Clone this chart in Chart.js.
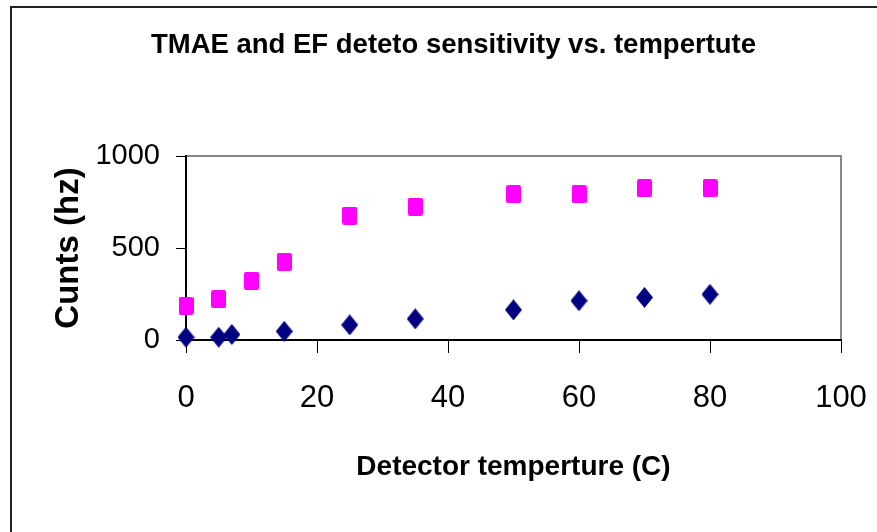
<!DOCTYPE html>
<html>
<head>
<meta charset="utf-8">
<script src="https://cdn.jsdelivr.net/npm/chart.js@4"></script>
<style>
  html, body { margin: 0; padding: 0; background: #fff; overflow: hidden; }
  #wrap { position: relative; width: 877px; height: 532px; }
  #frame {
    position: absolute; left: 10px; top: 6px; width: 900px; height: 560px;
    border: 2px solid #222; pointer-events: none;
  }
</style>
</head>
<body>
<div id="wrap">
  <canvas id="myChart" width="877" height="532"></canvas>
  <div id="frame"></div>
</div>
<script>
// detector temperature (C)
const tmaeTemps = [0, 5, 7, 15, 25, 35, 50, 60, 70, 80];
const tmaeCounts = [15, 15, 30, 47, 82, 115, 164, 213, 231, 248];
const efTemps = [0, 5, 10, 15, 25, 35, 50, 60, 70, 80];
const efCounts = [187, 222, 322, 424, 676, 725, 792, 792, 825, 825];

const xTicks = [0, 20, 40, 60, 80, 100];
const yTicks = [0, 500, 1000];

const toPoints = (xs, ys) => xs.map((x, i) => ({ x, y: ys[i] }));

// marker images (excel style rect / diamond)
const makeMarker = (w, h, color, diamond) => {
  const c = document.createElement('canvas');
  c.width = w;
  c.height = h;
  const g = c.getContext('2d');
  g.fillStyle = color;
  g.beginPath();
  if (diamond) {
    g.moveTo(w / 2, 0);
    g.lineTo(w, h / 2);
    g.lineTo(w / 2, h);
    g.lineTo(0, h / 2);
  } else {
    g.roundRect(0, 0, w, h, 2);
  }
  g.closePath();
  g.fill();
  return c;
};
const squareMark = makeMarker(15, 18, '#FF00FF', false);
const diamondMark = makeMarker(17, 21, '#000080', true);

const plotFrame = {
  id: 'plotFrame',
  beforeDraw(chart) {
    const { ctx, chartArea: a } = chart;
    ctx.save();
    ctx.strokeStyle = '#888';
    ctx.lineWidth = 2;
    ctx.strokeRect(a.left, a.top, a.right - a.left, a.bottom - a.top);
    ctx.restore();
  },
};

const main = () => {
  const ctx = document.getElementById('myChart').getContext('2d');
  const config = {
    type: 'scatter',
    data: {
      datasets: [
        {
          label: 'TMAE',
          data: toPoints(tmaeTemps, tmaeCounts),
          pointStyle: diamondMark,
          backgroundColor: '#000080',
          borderColor: '#000080',
          clip: false,
        },
        {
          label: 'EF',
          data: toPoints(efTemps, efCounts),
          pointStyle: squareMark,
          backgroundColor: '#FF00FF',
          borderColor: '#FF00FF',
          clip: false,
        },
      ],
    },
    options: {
      responsive: false,
      animation: false,
      layout: { padding: { left: 66, right: 36, top: 0, bottom: 0 } },
      plugins: {
        legend: { display: false },
        tooltip: { enabled: false },
        title: {
          display: true,
          text: 'TMAE and EF deteto sensitivity vs. tempertute',
          color: '#000',
          font: { family: 'Liberation Sans, Arial', size: 27.5, weight: 'bold' },
          padding: { top: 29, bottom: 94 },
        },
      },
      scales: {
        x: {
          type: 'linear',
          min: 0,
          max: 100,
          afterBuildTicks: (s) => { s.ticks = xTicks.map((v) => ({ value: v })); },
          afterFit: (s) => {
            s.height = 192;
            s.paddingLeft = 0;
            s.paddingRight = 0;
          },
          border: { display: true, color: '#000', width: 2 },
          grid: { drawOnChartArea: false, drawTicks: true, tickLength: 13, color: '#000' },
          ticks: {
            color: '#000',
            padding: 27,
            maxRotation: 0,
            font: { family: 'Liberation Sans, Arial', size: 31 },
          },
          title: {
            display: true,
            text: 'Detector temperture (C)',
            color: '#000',
            font: { family: 'Liberation Sans, Arial', size: 28, weight: 'bold' },
            padding: { top: 0, bottom: 48 },
          },
        },
        y: {
          type: 'linear',
          min: 0,
          max: 1000,
          afterBuildTicks: (s) => { s.ticks = yTicks.map((v) => ({ value: v })); },
          afterFit: (s) => { s.width = 120; },
          border: { display: true, color: '#000', width: 2 },
          grid: { drawOnChartArea: false, drawTicks: true, tickLength: 10, color: '#000' },
          ticks: {
            color: '#000',
            padding: 16,
            font: { family: 'Liberation Sans, Arial', size: 29 },
            callback: (v) => String(v),
          },
          title: {
            display: true,
            text: 'Cunts (hz)',
            color: '#000',
            font: { family: 'Liberation Sans, Arial', size: 33, weight: 'bold' },
            padding: { top: -17, bottom: 0 },
          },
        },
      },
    },
    plugins: [plotFrame],
  };
  new Chart(ctx, config);
};

main();
</script>
</body>
</html>
